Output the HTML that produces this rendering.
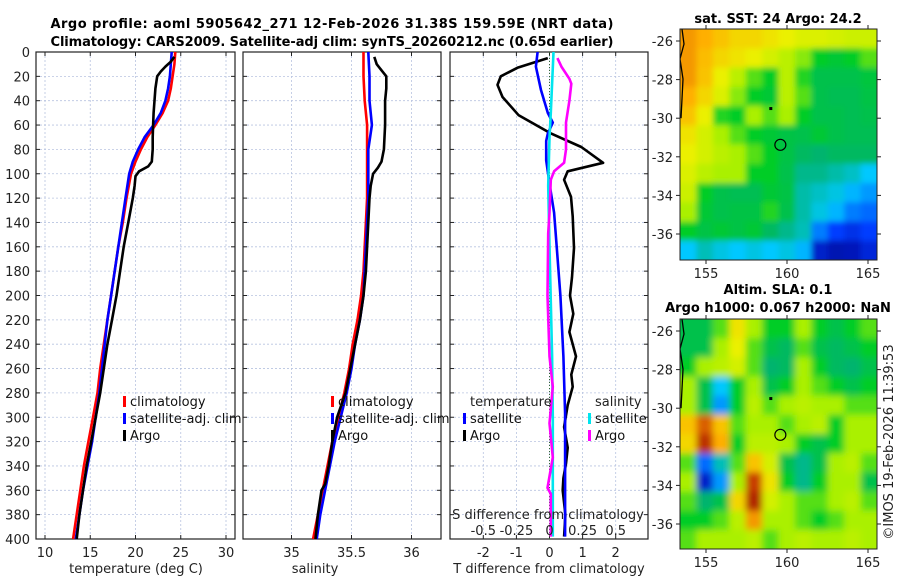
<!DOCTYPE html>
<html><head><meta charset="utf-8"><style>
html,body{margin:0;padding:0;background:#fff;}
svg{display:block;font-family:"DejaVu Sans","Liberation Sans",sans-serif;}
</style></head><body>
<svg id="fig" width="900" height="580" viewBox="0 0 900 580">
<text x="332" y="28" font-size="13" font-weight="bold" text-anchor="middle" textLength="563">Argo profile: aoml 5905642_271 12-Feb-2026 31.38S 159.59E (NRT data)</text>
<text x="332" y="46" font-size="13" font-weight="bold" text-anchor="middle" textLength="563">Climatology: CARS2009. Satellite-adj clim: synTS_20260212.nc (0.65d earlier)</text>
<g id="p1"></g>
<g id="p2"></g>
<g id="p3"></g>
<g id="m1"></g>
<g id="m2"></g>
<text x="778" y="23" font-size="13" font-weight="bold" text-anchor="middle">sat. SST: 24 Argo: 24.2</text>
<text x="778" y="294" font-size="13" font-weight="bold" text-anchor="middle">Altim. SLA: 0.1</text>
<text x="778" y="312" font-size="13" font-weight="bold" text-anchor="middle">Argo h1000: 0.067 h2000: NaN</text>
<text transform="translate(893,442) rotate(-90)" font-size="13" text-anchor="middle" fill="#222">©IMOS 19-Feb-2026 11:39:53</text>
</svg>
<script>
// ---- data ----
const climTDepth=[0,10,20,30,40,50,60,70,80,90,100,120,140,160,180,200,220,240,260,280,300,320,340,360,380,400];
const climT=[24.4,24.3,24.1,23.9,23.6,23.0,22.2,21.3,20.6,20.0,19.5,19.0,18.6,18.1,17.7,17.3,16.9,16.5,16.1,15.8,15.3,14.8,14.3,13.9,13.5,13.1];
const satT=[24.0,23.9,23.8,23.6,23.3,22.8,22.0,21.0,20.3,19.7,19.3,18.9,18.5,18.1,17.7,17.3,16.9,16.6,16.3,16.0,15.6,15.2,14.7,14.2,13.8,13.4];
const argoTDepth=[4,8,12,16,20,30,40,50,60,70,80,90,94,98,102,110,120,140,160,180,200,220,240,260,280,300,320,340,360,380,400];
const argoT=[24.3,23.9,23.3,22.8,22.4,22.2,22.1,22.0,21.95,21.9,21.9,21.8,21.4,20.4,20.0,19.9,19.7,19.2,18.7,18.3,17.9,17.4,16.9,16.5,16.1,15.6,15.1,14.6,14.2,13.8,13.5];
const climSDepth=[0,20,40,60,80,100,120,140,160,180,200,220,240,260,280,300,320,340,360,380,400];
const climS=[35.6,35.6,35.61,35.63,35.63,35.63,35.63,35.62,35.61,35.6,35.58,35.55,35.51,35.48,35.44,35.39,35.34,35.3,35.26,35.22,35.18];
const satS=[35.64,35.65,35.65,35.67,35.64,35.64,35.64,35.63,35.62,35.61,35.6,35.57,35.53,35.5,35.46,35.41,35.36,35.32,35.28,35.24,35.21];
const argoSDepth=[4,10,15,20,30,40,60,80,90,95,100,110,120,140,160,180,200,220,240,260,280,300,310,320,340,355,360,380,400];
const argoS=[35.69,35.71,35.75,35.79,35.79,35.78,35.78,35.77,35.75,35.72,35.68,35.66,35.65,35.64,35.63,35.62,35.6,35.57,35.53,35.49,35.45,35.38,35.36,35.34,35.31,35.28,35.25,35.22,35.2];
const dTArgoDepth=[5,13,20,27,37,52,67,78,91,98,105,119,135,161,185,200,215,230,250,265,275,290,308,325,338,350,360,380,398];
const dTArgo=[-0.05,-0.97,-1.47,-1.57,-1.42,-0.93,0.05,0.96,1.62,0.55,0.44,0.65,0.7,0.74,0.68,0.62,0.72,0.6,0.8,0.66,0.7,0.55,0.44,0.55,0.5,0.42,0.4,0.48,0.44];
const dTSatDepth=[0,12,31,50,58,67,73,89,108,132,161,200,250,297,398];
const dTSat=[-0.36,-0.41,-0.26,-0.05,0.1,-0.05,-0.1,-0.1,0,0.14,0.22,0.33,0.42,0.47,0.47];
const dSSatDepth=[0,50,70,110,160,250,300,398];
const dSSat=[0.03,0.01,0.0,-0.01,0,0.02,0.025,0.025];
const dSArgoDepth=[5,12,22,26,40,58,80,91,98,105,132,149,200,250,275,305,333,358,363,398];
const dSArgo=[0.06,0.09,0.15,0.165,0.15,0.125,0.125,0.11,0.035,0.01,0,-0.01,-0.015,0,0.025,0,0.025,-0.015,0.01,0.01];
const depthTicks=[0,20,40,60,80,100,120,140,160,180,200,220,240,260,280,300,320,340,360,380,400];
const tTicks=[10,15,20,25,30];
const sTicks=[35,35.5,36];
const dTTicks=[-2,-1,0,1,2];
const dSTicks=[-0.5,-0.25,0,0.25,0.5];
const dSTickLabels=["-0.5","-0.25","0","0.25","0.5"];
const sstGrid=[
[0.8,0.78,0.75,0.72,0.72,0.7,0.68,0.66,0.66,0.65,0.64,0.64],
[0.8,0.76,0.72,0.7,0.68,0.65,0.62,0.58,0.5,0.48,0.5,0.55],
[0.8,0.75,0.68,0.62,0.55,0.5,0.62,0.52,0.45,0.45,0.45,0.47],
[0.78,0.72,0.66,0.58,0.5,0.48,0.62,0.55,0.45,0.44,0.44,0.46],
[0.75,0.68,0.52,0.5,0.6,0.55,0.6,0.5,0.45,0.45,0.44,0.45],
[0.7,0.65,0.6,0.55,0.5,0.48,0.46,0.45,0.48,0.45,0.44,0.44],
[0.68,0.65,0.62,0.6,0.55,0.5,0.46,0.42,0.4,0.42,0.42,0.42],
[0.66,0.62,0.6,0.6,0.5,0.5,0.45,0.38,0.38,0.36,0.34,0.3],
[0.64,0.5,0.45,0.44,0.44,0.48,0.46,0.36,0.34,0.32,0.28,0.25],
[0.6,0.48,0.45,0.46,0.46,0.52,0.45,0.36,0.32,0.28,0.22,0.2],
[0.5,0.46,0.48,0.46,0.48,0.42,0.38,0.35,0.22,0.15,0.12,0.15],
[0.3,0.35,0.32,0.3,0.32,0.3,0.32,0.28,0.08,0.05,0.06,0.1]];
const slaGrid=[
[0.45,0.45,0.55,0.7,0.6,0.5,0.5,0.6,0.5,0.45,0.5,0.55],
[0.45,0.45,0.6,0.68,0.55,0.45,0.42,0.55,0.45,0.42,0.45,0.5],
[0.5,0.6,0.62,0.65,0.55,0.4,0.42,0.6,0.5,0.42,0.4,0.45],
[0.6,0.45,0.3,0.5,0.6,0.45,0.5,0.6,0.55,0.5,0.45,0.5],
[0.6,0.45,0.25,0.5,0.62,0.55,0.6,0.62,0.6,0.6,0.55,0.55],
[0.75,0.85,0.75,0.55,0.6,0.6,0.55,0.6,0.62,0.5,0.6,0.6],
[0.72,0.9,0.78,0.5,0.62,0.62,0.6,0.5,0.45,0.5,0.6,0.6],
[0.55,0.2,0.35,0.55,0.75,0.65,0.45,0.38,0.45,0.6,0.62,0.55],
[0.6,0.08,0.25,0.6,0.88,0.7,0.5,0.38,0.5,0.6,0.6,0.45],
[0.55,0.4,0.45,0.72,0.92,0.65,0.6,0.55,0.55,0.6,0.62,0.55],
[0.5,0.5,0.55,0.62,0.8,0.6,0.6,0.55,0.5,0.55,0.6,0.6],
[0.55,0.6,0.6,0.6,0.62,0.55,0.6,0.62,0.6,0.6,0.62,0.6]];
const lonTicks=[155,160,165];
const latTicks=[-26,-28,-30,-32,-34,-36];
const argoPos=[159.59,-31.38];

// ---- helpers ----
const NS="http://www.w3.org/2000/svg";
function mk(tag,attrs,parent){const e=document.createElementNS(NS,tag);for(const k in attrs)e.setAttribute(k,attrs[k]);parent.appendChild(e);return e;}
const Y0=52,Y1=539;
const yD=d=>Y0+d*(Y1-Y0)/400;

function panel(g,x0,x1,xs,ticks,labels,showY){
  for(const t of ticks){const x=xs(t);
    const l=mk('line',{x1:x,x2:x,y1:Y0,y2:Y1,stroke:'#b8c4e0','stroke-width':0.8,'stroke-dasharray':'2,2'},g);
    }
  for(const d of depthTicks){const y=yD(d);
    const l=mk('line',{x1:x0,x2:x1,y1:y,y2:y,stroke:'#b8c4e0','stroke-width':0.8,'stroke-dasharray':'2,2'},g);
    
    mk('line',{x1:x0,x2:x0+4,y1:y,y2:y,stroke:'#222'},g);mk('line',{x1:x1,x2:x1-4,y1:y,y2:y,stroke:'#222'},g);
    if(showY){const t=mk('text',{x:x0-6,y:y+5,'font-size':13,'text-anchor':'end',fill:'#222'},g);t.textContent=d;
      }}
  if(labels){ticks.forEach((t,i)=>{const x=xs(t);
    mk('line',{x1:x,x2:x,y1:Y1,y2:Y1-4,stroke:'#222'},g);mk('line',{x1:x,x2:x,y1:Y0,y2:Y0+4,stroke:'#222'},g);
    const tx=mk('text',{x:x,y:557,'font-size':13,'text-anchor':'middle',fill:'#222'},g);tx.textContent=labels[i];
    });}
  const r=mk('rect',{x:x0,y:Y0,width:x1-x0,height:Y1-Y0,fill:'none',stroke:'#222','stroke-width':1.2},g);
  
}
function line(g,xs,vals,depths,col,name,w){
  const pts=vals.map((v,i)=>xs(v).toFixed(1)+','+yD(depths[i]).toFixed(1)).join(' ');
  const p=mk('polyline',{points:pts,fill:'none',stroke:col,'stroke-width':w||2.6,'stroke-linejoin':'round'},g);
  
}
function legend(g,x,y,col,label,name){
  mk('rect',{x:x-7,y:y-10,width:3,height:11,fill:col},g);
  const t=mk('text',{x:x,y:y,'font-size':13,fill:'#111'},g);t.textContent=label;
  
}
function txt(g,x,y,s,name,anchor){const t=mk('text',{x:x,y:y,'font-size':13,'text-anchor':anchor||'middle',fill:'#222'},g);t.textContent=s;
  return t;}

// panel 1
const g1=document.getElementById('p1');
const xT=v=>45+(v-10)*9.05;
panel(g1,36,235,xT,tTicks,tTicks.map(String),true);
line(g1,xT,climT,climTDepth,'#ff0000','climatology-temperature-line');
line(g1,xT,satT,climTDepth,'#0000ff','satellite-temperature-line');
line(g1,xT,argoT,argoTDepth,'#000000','argo-temperature-line');
legend(g1,130,406,'#ff0000','climatology','legend-climatology');
legend(g1,130,423,'#0000ff','satellite-adj. clim','legend-satellite-adj');
legend(g1,130,440,'#000000','Argo','legend-argo');
txt(g1,136,573,'temperature (deg C)','x-axis-title-temperature');

// panel 2
const g2=document.getElementById('p2');
const xS=v=>291.5+(v-35)*120;
panel(g2,243,441,xS,sTicks,sTicks.map(String),false);
line(g2,xS,climS,climSDepth,'#ff0000','climatology-salinity-line');
line(g2,xS,satS,climSDepth,'#0000ff','satellite-salinity-line');
line(g2,xS,argoS,argoSDepth,'#000000','argo-salinity-line');
legend(g2,338,406,'#ff0000','climatology','legend-climatology');
legend(g2,338,423,'#0000ff','satellite-adj. clim','legend-satellite-adj');
legend(g2,338,440,'#000000','Argo','legend-argo');
txt(g2,315,573,'salinity','x-axis-title-salinity');

// panel 3
const g3=document.getElementById('p3');
const xdT=v=>549.5+v*33.1;
const xdS=v=>549.5+v*132.4;
panel(g3,450,648,xdT,dTTicks,dTTicks.map(String),false);
const zl=mk('line',{x1:549.5,x2:549.5,y1:Y0,y2:Y1,stroke:'#336633','stroke-width':1,'stroke-dasharray':'1,2'},g3);

line(g3,xdT,dTArgo,dTArgoDepth,'#000000','argo-temperature-difference-line');
line(g3,xdT,dTSat,dTSatDepth,'#0000ff','satellite-temperature-difference-line');
line(g3,xdS,dSSat,dSSatDepth,'#00e5ee','satellite-salinity-difference-line');
line(g3,xdS,dSArgo,dSArgoDepth,'#ff00ff','argo-salinity-difference-line');
txt(g3,470,406,'temperature','legend-temperature-heading','start');
legend(g3,470,423,'#0000ff','satellite','legend-temp-satellite');
legend(g3,470,440,'#000000','Argo','legend-temp-argo');
txt(g3,595,406,'salinity','legend-salinity-heading','start');
legend(g3,595,423,'#00e5ee','satellite','legend-sal-satellite');
legend(g3,595,440,'#ff00ff','Argo','legend-sal-argo');
txt(g3,548,519,'S difference from climatology','s-axis-title');
dSTicks.forEach((v,i)=>txt(g3,xdS(v),535,dSTickLabels[i],'s-tick-label'));
txt(g3,549,573,'T difference from climatology','x-axis-title-difference');

// maps
const cmapStops=[[0,[0,0,140]],[0.15,[0,60,255]],[0.3,[0,200,255]],[0.4,[0,180,110]],[0.5,[0,205,40]],[0.6,[170,240,0]],[0.68,[235,240,0]],[0.78,[255,175,0]],[0.88,[200,60,0]],[1,[130,0,0]]];
function cmap(v){v=Math.max(0,Math.min(1,v));
  for(let i=1;i<cmapStops.length;i++){const [a,ca]=cmapStops[i-1],[b,cb]=cmapStops[i];
    if(v<=b){const t=(v-a)/(b-a);return `rgb(${ca.map((c,k)=>Math.round(c+(cb[k]-c)*t)).join(',')})`;}}
  return 'rgb(130,0,0)';}
function map(g,top,bottom,lat26y,grid,name,blur){
  const L=680,R=877;
  const xL=lon=>706+(lon-155)*16.2;
  const yL=lat=>lat26y+(-26-lat)*19.3;
  const clipId='clip'+name;
  const cp=mk('clipPath',{id:clipId},g);mk('rect',{x:L,y:top,width:R-L,height:bottom-top},cp);
  const cg=mk('g',{'clip-path':`url(#${clipId})`},g);
  const f=mk('filter',{id:'bl'+name,x:'-10%',y:'-10%',width:'120%',height:'120%'},g);mk('feGaussianBlur',{stdDeviation:blur},f);
  const target=mk('g',{filter:`url(#bl${name})`},cg);
  const rows=grid.length,cols=grid[0].length,cw=(R-L)/cols,ch=(bottom-top)/rows;
  grid.forEach((row,i)=>row.forEach((v,j)=>{
    const x=L+j*cw-(j===0?cw:0),y=top+i*ch-(i===0?ch:0);
    const w=cw+0.5+(j===0||j===cols-1?cw:0),h=ch+0.5+(i===0||i===rows-1?ch:0);
    const c=mk('rect',{x:x,y:y,width:w,height:h,fill:cmap(v)},target);
    }));
  const cst=mk('polyline',{points:`${L+2},${top} ${L+4},${top+15} ${L},${top+30} ${L+3},${top+50} ${L+2},${top+70} ${L+1},${yL(-30)}`,fill:'none',stroke:'#000','stroke-width':1.3},cg);
  
  const dot=mk('rect',{x:xL(159)-1.5,y:yL(-29.5)-1.5,width:3,height:3,fill:'#000'},cg);
  
  const c=mk('circle',{cx:xL(argoPos[0]),cy:yL(argoPos[1]),r:5.5,fill:'none',stroke:'#000','stroke-width':1.2},cg);
  
  const fr=mk('rect',{x:L,y:top,width:R-L,height:bottom-top,fill:'none',stroke:'#222','stroke-width':1},g);
  
  for(const lat of latTicks){const y=yL(lat);
    mk('line',{x1:L,x2:L-4,y1:y,y2:y,stroke:'#222'},g);mk('line',{x1:R,x2:R+4,y1:y,y2:y,stroke:'#222'},g);
    txt(g,673,y+5,String(lat),'latitude-tick-label','end');}
  for(const lon of lonTicks){const x=xL(lon);
    mk('line',{x1:x,x2:x,y1:bottom,y2:bottom+4,stroke:'#222'},g);mk('line',{x1:x,x2:x,y1:top,y2:top-4,stroke:'#222'},g);
    txt(g,x,bottom+18,String(lon),'longitude-tick-label');}
}
map(document.getElementById('m1'),29,260,41,sstGrid,'sst',3);
map(document.getElementById('m2'),319,549,331,slaGrid,'sla',3.5);
</script>
</body></html>
